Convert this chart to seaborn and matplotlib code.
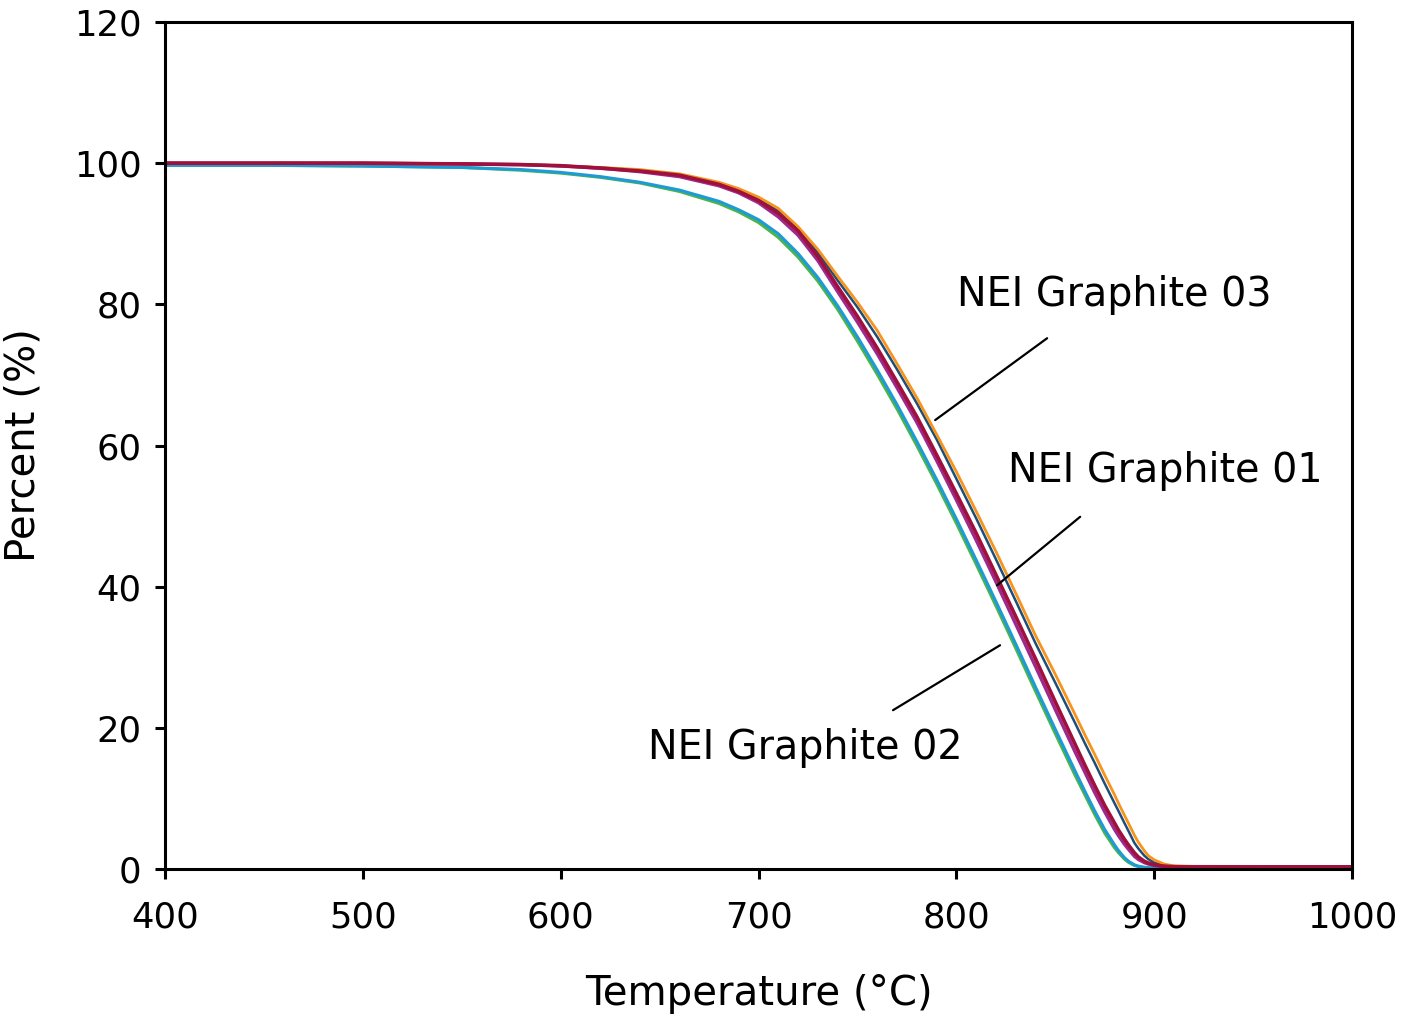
import pandas as pd
import matplotlib
matplotlib.use("Agg")
import matplotlib.pyplot as plt
import seaborn as sns

# temperature grid (°C) shared by all runs
temperature = [400, 450, 500, 550, 580, 600, 620, 640, 660, 680, 690, 700, 710, 720,
               730, 740, 750, 760, 770, 780, 790, 800, 810, 820, 830, 840, 850, 860,
               865, 870, 875, 880, 882, 885, 887, 890, 892, 895, 897, 900, 905, 910, 920, 1000]

# weight percent
g02_a = [99.7, 99.7, 99.6, 99.4, 99.0, 98.6, 98.0, 97.2, 96.0, 94.3, 93.1, 91.6, 89.5, 86.7,
         83.3, 79.3, 74.8, 70.1, 65.2, 60.0, 54.6, 49.0, 43.2, 37.3, 31.3, 25.2, 19.2, 13.3,
         10.5, 7.7, 5.1, 3.0, 2.3, 1.4, 0.95, 0.5, 0.35, 0.2, 0.15, 0.1, 0.1, 0.1, 0.1, 0.1]
g02_b = [99.7, 99.7, 99.6, 99.4, 99.1, 98.7, 98.1, 97.3, 96.2, 94.6, 93.4, 92.0, 90.0, 87.2,
         83.8, 79.8, 75.4, 70.7, 65.8, 60.6, 55.2, 49.6, 43.8, 37.9, 31.9, 25.8, 19.8, 13.9,
         11.0, 8.2, 5.6, 3.4, 2.6, 1.6, 1.1, 0.6, 0.4, 0.25, 0.18, 0.15, 0.12, 0.1, 0.1, 0.1]
g01_a = [100.0, 100.0, 100.0, 99.9, 99.8, 99.6, 99.3, 98.8, 98.1, 96.8, 95.8, 94.4, 92.4, 89.8,
         86.2, 81.8, 77.5, 73.0, 68.2, 63.3, 57.9, 52.3, 46.6, 40.7, 34.7, 28.7, 22.6, 16.6,
         13.7, 10.8, 8.1, 5.6, 4.7, 3.5, 2.8, 1.8, 1.35, 0.9, 0.7, 0.5, 0.35, 0.3, 0.3, 0.3]
g01_b = [100.0, 100.0, 100.0, 99.9, 99.8, 99.65, 99.3, 98.9, 98.3, 97.0, 96.0, 94.7, 92.9, 90.4,
         86.8, 82.5, 78.3, 73.8, 69.0, 64.1, 58.7, 53.2, 47.6, 41.7, 35.8, 29.8, 23.7, 17.7,
         14.7, 11.8, 9.0, 6.5, 5.5, 4.2, 3.4, 2.3, 1.7, 1.1, 0.85, 0.6, 0.4, 0.32, 0.3, 0.3]
g03_a = [100.05, 100.05, 100.0, 99.9, 99.8, 99.6, 99.4, 99.0, 98.4, 97.1, 96.2, 94.9, 93.2, 90.6,
         87.3, 83.4, 79.6, 75.4, 70.8, 66.0, 60.9, 55.3, 49.7, 43.9, 38.0, 32.0, 26.4, 20.7,
         17.8, 15.0, 12.1, 9.3, 8.2, 6.5, 5.4, 3.7, 2.9, 1.9, 1.4, 0.9, 0.5, 0.4, 0.35, 0.35]
g03_b = [100.05, 100.05, 100.05, 99.9, 99.8, 99.65, 99.4, 99.1, 98.5, 97.3, 96.4, 95.2, 93.6, 91.0,
         87.8, 84.0, 80.3, 76.3, 71.6, 66.8, 61.6, 56.3, 50.7, 45.0, 39.1, 33.1, 27.6, 21.9,
         19.0, 16.2, 13.3, 10.5, 9.3, 7.6, 6.5, 4.8, 3.8, 2.6, 1.9, 1.3, 0.7, 0.45, 0.38, 0.35]

runs = {
    "02a": (g02_a, "#4BB548", 2.2),
    "03a": (g03_a, "#1F4E79", 1.8),
    "03b": (g03_b, "#F7941D", 2.0),
    "02b": (g02_b, "#1E9AD6", 2.2),
    "01a": (g01_a, "#9C2A8E", 2.4),
    "01b": (g01_b, "#A0103C", 2.6),
}

labels = [
    ("NEI Graphite 03", (800.4, 81.3), (845.9, 75.2), (789.3, 63.6)),
    ("NEI Graphite 01", (826.2, 56.4), (862.6, 49.9), (820.6, 40.2)),
    ("NEI Graphite 02", (644.2, 17.1), (768.0, 22.5), (822.1, 31.7)),
]

sns.set_style("white")
plt.rcParams['font.family'] = ['DejaVu Sans']

fig = plt.figure(figsize=(14.01, 10.16), dpi=100)
ax = fig.add_axes([0.1178, 0.1447, 0.8472, 0.8336])

for name, (vals, color, lw) in runs.items():
    df = pd.DataFrame({"Temperature": temperature, "Percent": vals})
    sns.lineplot(data=df, x="Temperature", y="Percent", color=color, linewidth=lw,
                 sort=False, estimator=None, ax=ax)

for text, pos, start, end in labels:
    ax.text(pos[0], pos[1], text, fontsize=28.5, ha="left", va="center", color="black")
    ax.annotate("", xy=end, xytext=start,
                arrowprops=dict(arrowstyle="-", color="black", lw=1.6, shrinkA=0, shrinkB=0))

ax.set_xlim(400, 1000)
ax.set_ylim(0, 120)
ax.set_xticks(range(400, 1001, 100))
ax.set_yticks(range(0, 121, 20))
ax.tick_params(axis="both", direction="out", length=7, width=2.2, labelsize=25.5,
               colors="black", bottom=True, left=True)
ax.tick_params(axis="x", pad=16)
ax.tick_params(axis="y", pad=10)
for sp in ax.spines.values():
    sp.set_color("black")
    sp.set_linewidth(2.2)

ax.set_xlabel("Temperature (°C)", fontsize=29, labelpad=28, color="black")
ax.set_ylabel("Percent (%)", fontsize=29, labelpad=22, color="black")

plt.savefig("out.png", dpi=100)
plt.close()
